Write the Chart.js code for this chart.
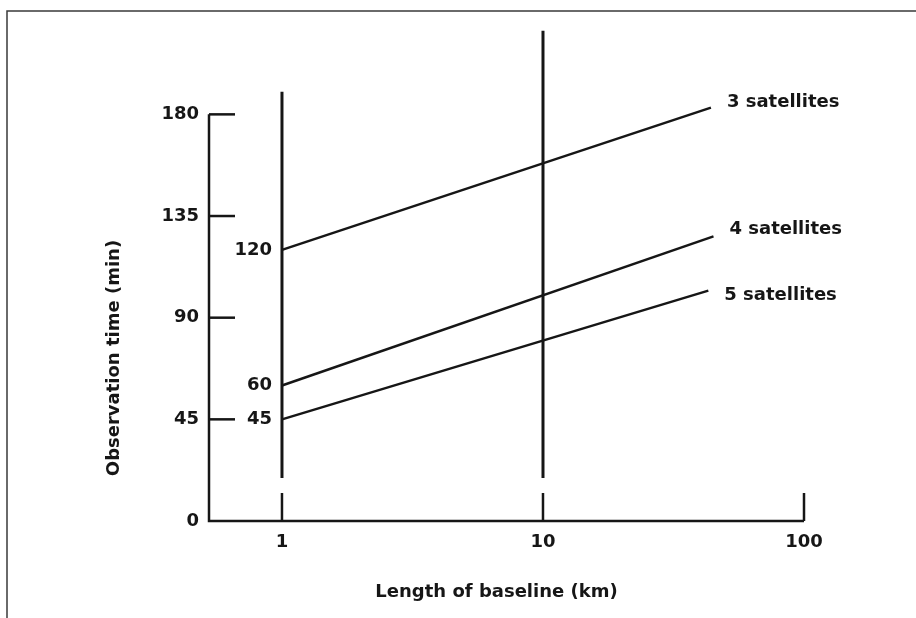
<!DOCTYPE html>
<html>
<head>
<meta charset="utf-8">
<title>Observation time vs baseline length</title>
<script src="https://cdn.jsdelivr.net/npm/chart.js@4/dist/chart.umd.min.js"></script>
<style>
  html, body { margin:0; padding:0; background:#fff; }
  #wrap { width:916px; height:618px; }
</style>
</head>
<body>
<div id="wrap"><canvas id="chart" width="916" height="618"></canvas></div>
<script>
// baseline length (km) and observation time (min) per satellite count
const sat3Km  = [1, 44];
const sat3Min = [120, 183];
const sat4Km  = [1, 45];
const sat4Min = [60, 126];
const sat5Km  = [1, 43];
const sat5Min = [45, 102];
const seriesNames = ['3 satellites', '4 satellites', '5 satellites'];

// reference verticals at 1 km and 10 km
const markerKm = [1, 10];
const markerTop = [190, 217];
const markerBottom = 19;

const yTicks = [0, 45, 90, 135, 180];
const xTicks = [1, 10, 100];
const xTitle = 'Length of baseline (km)';
const yTitle = 'Observation time (min)';

const INK = '#161616';
const FONT = 'bold 18px "DejaVu Sans", sans-serif';

function pts(xs, ys){ return xs.map((x,i)=>({x, y:ys[i]})); }

const lineStyle = {borderColor:INK, borderWidth:2.5, pointRadius:0, tension:0, fill:false};
const datasets = [
  {...lineStyle, label:seriesNames[0], data:pts(sat3Km, sat3Min), tagDy:-5},
  {...lineStyle, label:seriesNames[1], data:pts(sat4Km, sat4Min), tagDy:-7},
  {...lineStyle, label:seriesNames[2], data:pts(sat5Km, sat5Min), tagDy:5},
];
markerKm.forEach((km,i)=>{
  datasets.push({...lineStyle, borderWidth:3, label:'', marker:true,
    data:[{x:km, y:markerBottom}, {x:km, y:markerTop[i]}]});
});

// axes, ticks, frame and all text are painted here
const paperPlugin = {
  id:'paper',
  beforeDraw(chart){
    const {ctx} = chart;
    ctx.save();
    ctx.strokeStyle = '#3a3a3a';
    ctx.lineWidth = 1.5;
    ctx.beginPath();
    ctx.moveTo(7, 618); ctx.lineTo(7, 11); ctx.lineTo(916, 11);
    ctx.stroke();
    ctx.restore();
  },
  afterDraw(chart){
    const {ctx, chartArea:a, scales:{x, y}} = chart;
    ctx.save();
    ctx.strokeStyle = INK;
    ctx.fillStyle = INK;
    ctx.lineWidth = 2.5;
    ctx.lineCap = 'butt';

    const y0 = y.getPixelForValue(0);
    const xEnd = x.getPixelForValue(xTicks[xTicks.length-1]);
    ctx.beginPath();
    ctx.moveTo(a.left, y.getPixelForValue(yTicks[yTicks.length-1]));
    ctx.lineTo(a.left, y0);
    ctx.lineTo(xEnd, y0);
    ctx.stroke();

    // inward tick marks
    yTicks.filter(v=>v>0).forEach(v=>{
      const py = y.getPixelForValue(v);
      ctx.beginPath(); ctx.moveTo(a.left, py); ctx.lineTo(a.left+26, py); ctx.stroke();
    });
    xTicks.forEach(v=>{
      const px = x.getPixelForValue(v);
      ctx.beginPath(); ctx.moveTo(px, y0); ctx.lineTo(px, y0-28); ctx.stroke();
    });

    ctx.font = FONT;
    ctx.textBaseline = 'middle';
    ctx.textAlign = 'right';
    yTicks.forEach(v=> ctx.fillText(String(v), a.left-10, y.getPixelForValue(v)));
    ctx.textAlign = 'center';
    xTicks.forEach(v=> ctx.fillText(String(v), x.getPixelForValue(v), y0+21));
    ctx.fillText(xTitle, (a.left+xEnd)/2 - 10, 592);

    ctx.save();
    ctx.translate(114, 358);
    ctx.rotate(-Math.PI/2);
    ctx.fillText(yTitle, 0, 0);
    ctx.restore();

    // start values and series names at the line ends
    chart.data.datasets.forEach((ds,i)=>{
      if(ds.marker) return;
      const pts = chart.getDatasetMeta(i).data;
      const first = pts[0], last = pts[pts.length-1];
      ctx.textAlign = 'right';
      ctx.fillText(String(ds.data[0].y), first.x-10, first.y);
      ctx.textAlign = 'left';
      ctx.fillText(ds.label, last.x+16, last.y+ds.tagDy);
    });
    ctx.restore();
  }
};

new Chart(document.getElementById('chart'), {
  type:'line',
  data:{datasets},
  options:{
    responsive:false,
    animation:false,
    devicePixelRatio:1,
    layout:{padding:{left:209, right:112, top:24, bottom:97}},
    plugins:{legend:{display:false}, tooltip:{enabled:false}},
    scales:{
      x:{type:'logarithmic', min:0.5253, max:100, display:false},
      y:{type:'linear', min:0, max:220, display:false}
    },
    elements:{line:{borderCapStyle:'butt'}},
    clip:false
  },
  plugins:[paperPlugin]
});
</script>
</body>
</html>
